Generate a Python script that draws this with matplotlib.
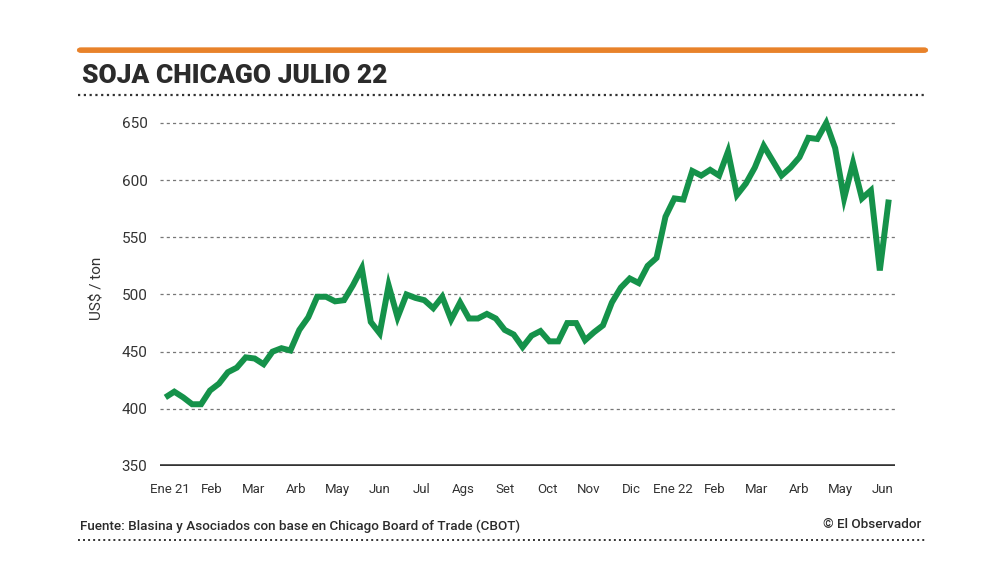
import numpy as np
import matplotlib
matplotlib.use("Agg")
import matplotlib.pyplot as plt
from matplotlib.patches import FancyBboxPatch

# precios semanales soja Chicago julio 22 (US$/ton)
precio = [410, 415, 410, 404, 404, 416, 422, 432, 436, 445,
          444, 439, 450, 453, 451, 469, 480, 498, 498, 494,
          495, 508, 523, 476, 466, 508, 480, 500, 497, 495,
          488, 498, 478, 493, 479, 479, 483, 479, 469, 465,
          454, 464, 468, 459, 459, 475, 475, 460, 467, 473,
          493, 506, 514, 510, 525, 532, 568, 584, 583, 608,
          604, 609, 604, 625, 587, 597, 611, 630, 617, 604,
          611, 620, 637, 636, 650, 628, 584, 615, 584, 591,
          521, 583]
meses = ["Ene 21", "Feb", "Mar", "Arb", "May", "Jun", "Jul", "Ags", "Set",
         "Oct", "Nov", "Dic", "Ene 22", "Feb", "Mar", "Arb", "May", "Jun"]
yticks = [350, 400, 450, 500, 550, 600, 650]

verde = "#15924a"
gris = "#333333"
fuente = "Roboto"

fig = plt.figure(figsize=(10, 5.83), dpi=100)
fig.patch.set_facecolor("white")

# barra naranja y titulo
fig.patches.append(FancyBboxPatch((0.078, 0.911), 0.849, 0.006,
                                  boxstyle="round,pad=0,rounding_size=0.003",
                                  transform=fig.transFigure, facecolor="#e8822a",
                                  edgecolor="#e8822a", linewidth=1.5))
fig.text(0.082, 0.870, "SOJA CHICAGO JULIO 22", fontsize=19, fontweight="heavy",
         color="#2b2b2b", family=fuente, va="center", ha="left")
fig.add_artist(plt.Line2D([0.078, 0.925], [0.837, 0.837], transform=fig.transFigure,
                          color="#333333", linewidth=1.6, linestyle=(0, (1, 1.6))))

ax = fig.add_axes([0.160, 0.2007, 0.735, 0.608])
x = np.arange(len(precio))
ax.plot(x, precio, color=verde, linewidth=4.3, solid_joinstyle="miter",
        solid_capstyle="butt", zorder=3)

ax.set_ylim(350, 660)
ax.set_xlim(-0.6, len(precio) - 0.3)
ax.set_yticks(yticks)
for v in yticks[1:]:
    ax.axhline(v, color="#777777", linewidth=0.9, linestyle=(0, (2.5, 2.5)), zorder=1)
ax.axhline(350, color="#333333", linewidth=2.6, zorder=2)

ax.set_xticks(np.linspace(0.5, len(precio) - 1.7, len(meses)))
ax.set_xticklabels(meses)
ax.tick_params(axis="both", length=0, colors=gris)
ax.tick_params(axis="x", pad=12, labelsize=9.5)
ax.tick_params(axis="y", pad=9, labelsize=11)
for lab in ax.get_xticklabels() + ax.get_yticklabels():
    lab.set_family(fuente)
for s in ax.spines.values():
    s.set_visible(False)
ax.set_ylabel("US$ / ton", fontsize=11, color=gris, family=fuente, labelpad=12)

# pie
fig.text(0.080, 0.097, "Fuente: Blasina y Asociados con base en Chicago Board of Trade (CBOT)",
         fontsize=9.7, color="#2b2b2b", family=fuente, fontweight="medium", va="center")
fig.text(0.921, 0.100, "© El Observador", fontsize=9.7, color="#2b2b2b", family=fuente,
         fontweight="medium", va="center", ha="right")
fig.add_artist(plt.Line2D([0.078, 0.925], [0.074, 0.074], transform=fig.transFigure,
                          color="#333333", linewidth=1.4, linestyle=(0, (1, 1.6))))

fig.savefig("out.png", dpi=100, facecolor="white")
